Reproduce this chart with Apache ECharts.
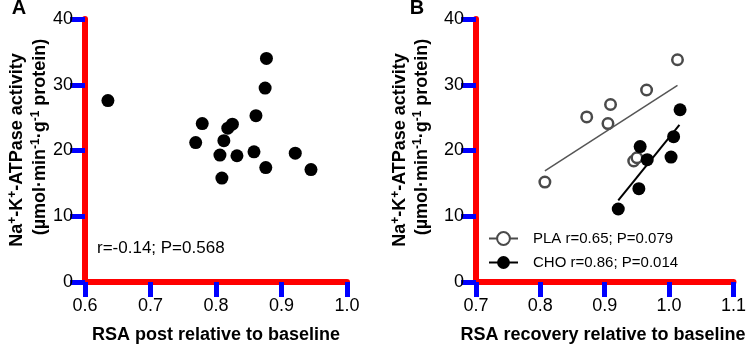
<!DOCTYPE html>
<html>
<head>
<meta charset="utf-8">
<script src="https://cdn.jsdelivr.net/npm/echarts@6/dist/echarts.min.js"></script>
<style>
html, body { margin: 0; padding: 0; background: #fff; }
#data_show { width: 749px; height: 345px; }
</style>
</head>
<body>
<div id="data_show"></div>
<script>
// panel A: RSA post vs Na+-K+-ATPase
var rsa_post = [0.635, 0.769, 0.779, 0.806, 0.809, 0.812, 0.818, 0.825, 0.832, 0.858, 0.861, 0.875, 0.877, 0.876, 0.921, 0.945];
var atpase_a = [27.6, 21.2, 24.1, 19.3, 15.8, 21.5, 23.4, 24.0, 19.2, 19.8, 25.3, 29.5, 34.0, 17.4, 19.6, 17.1];

// panel B: RSA recovery, PLA / CHO
var pla_x = [0.807, 0.872, 0.905, 0.909, 0.945, 0.950, 0.965, 1.013];
var pla_y = [15.2, 25.1, 24.1, 27.0, 18.4, 18.9, 29.2, 33.8];
var cho_x = [0.921, 0.953, 0.955, 0.966, 1.003, 1.007, 1.017];
var cho_y = [11.1, 14.2, 20.6, 18.6, 19.0, 22.1, 26.2];

// fitted lines, endpoints
var pla_fit = [[0.807, 16.9], [1.013, 29.9]];
var cho_fit = [[0.921, 12.4], [1.016, 23.9]];

var y_ticks = [0, 40, 10];
var xa_range = [0.6, 1.0];
var xb_range = [0.7, 1.1];

var pla_label = 'PLA r=0.65; P=0.079';
var cho_label = 'CHO r=0.86; P=0.014';
var a_note = 'r=-0.14; P=0.568';

var ff = 'Liberation Sans, Arial, sans-serif';
var axis_color = 'red';

function pairs(xs, ys){
	var out = [];
	for(var i = 0; i < xs.length; i++){
		out.push([xs[i], ys[i]]);
	}
	return out;
}

function make_x(idx, r){
	return {
		gridIndex: idx,
		type: 'value',
		min: r[0], max: r[1], splitNumber: 4,
		axisLine: { show: true, onZero: false, lineStyle: { color: axis_color, width: 6 } },
		axisTick: { show: true, length: 15, lineStyle: { color: 'blue', width: 5 } },
		axisLabel: { margin: 15, fontSize: 18, color: '#000',
			formatter: function(v){ return v.toFixed(1); } },
		splitLine: { show: false }
	};
}

function make_y(idx){
	return {
		gridIndex: idx,
		type: 'value',
		min: y_ticks[0], max: y_ticks[1], interval: y_ticks[2],
		axisLine: { show: true, onZero: false, lineStyle: { color: axis_color, width: 6 } },
		axisTick: { show: true, length: 15, lineStyle: { color: 'blue', width: 5 } },
		axisLabel: { margin: 12, fontSize: 18, color: '#000' },
		splitLine: { show: false }
	};
}

var sup = { fontSize: 12, fontWeight: 'bold', verticalAlign: 'top', padding: [0, 0, 8, 0] };
var base = { fontSize: 18, fontWeight: 'bold' };

function y_title(x1, x2){
	return [
		{
			type: 'text', x: x1, y: 150, rotation: Math.PI / 2,
			style: {
				text: '{b|Na}{s|+}{b|-K}{s|+}{b|-ATPase activity}',
				rich: { b: base, s: sup },
				fill: '#000', align: 'center', verticalAlign: 'middle'
			}
		},
		{
			type: 'text', x: x2, y: 137, rotation: Math.PI / 2,
			style: {
				text: '{b|(µmol·min}{s|-1}{b|·g}{s|-1}{b| protein)}',
				rich: { b: base, s: sup },
				fill: '#000', align: 'center', verticalAlign: 'middle'
			}
		}
	];
}

function x_title(x, txt){
	return { type: 'text', x: x, y: 335,
		style: { text: txt, fontSize: 18, fontWeight: 'bold', fill: '#000', align: 'center', verticalAlign: 'middle' } };
}

var chart = echarts.init(document.getElementById('data_show'));
var option = {
	animation: false,
	backgroundColor: '#fff',
	textStyle: { fontFamily: ff },
	grid: [
		{ left: 85, right: 402, top: 19, bottom: 63 },
		{ left: 476, right: 12, top: 19, bottom: 63 }
	],
	xAxis: [make_x(0, xa_range), make_x(1, xb_range)],
	yAxis: [make_y(0), make_y(1)],
	legend: {
		orient: 'vertical',
		left: 488,
		top: 231,
		padding: 0,
		itemWidth: 29,
		itemHeight: 16,
		itemGap: 9,
		textStyle: { fontSize: 15, color: '#000', padding: [0, 0, 0, 10] },
		data: [pla_label, cho_label]
	},
	graphic: [
		{ type: 'text', x: 19, y: 8, style: { text: 'A', fontSize: 20, fontWeight: 'bold', fill: '#000', align: 'center', verticalAlign: 'middle' } },
		{ type: 'text', x: 417, y: 8, style: { text: 'B', fontSize: 20, fontWeight: 'bold', fill: '#000', align: 'center', verticalAlign: 'middle' } },
		{ type: 'text', x: 97, y: 248, style: { text: a_note, fontSize: 17, fill: '#000', verticalAlign: 'middle' } },
		x_title(216, 'RSA post relative to baseline'),
		x_title(603, 'RSA recovery relative to baseline')
	].concat(y_title(17, 40)).concat(y_title(400, 422)),
	series: [
		{
			type: 'scatter',
			xAxisIndex: 0, yAxisIndex: 0,
			symbolSize: 13,
			itemStyle: { color: '#000', opacity: 1 },
			data: pairs(rsa_post, atpase_a)
		},
		{
			type: 'line',
			xAxisIndex: 1, yAxisIndex: 1,
			showSymbol: false,
			lineStyle: { color: '#555', width: 1.5 },
			data: pla_fit
		},
		{
			type: 'line',
			xAxisIndex: 1, yAxisIndex: 1,
			showSymbol: false,
			lineStyle: { color: '#000', width: 2 },
			data: cho_fit
		},
		{
			type: 'scatter',
			xAxisIndex: 1, yAxisIndex: 1,
			symbolSize: 10.5,
			itemStyle: { color: '#fff', borderColor: '#4a4a4a', borderWidth: 2.5, opacity: 1 },
			data: pairs(pla_x, pla_y)
		},
		{
			type: 'scatter',
			xAxisIndex: 1, yAxisIndex: 1,
			symbolSize: 13,
			itemStyle: { color: '#000', opacity: 1 },
			data: pairs(cho_x, cho_y)
		},
		// legend-only series
		{
			name: pla_label,
			type: 'line',
			xAxisIndex: 1, yAxisIndex: 1,
			symbol: 'circle',
			symbolSize: 10.5,
			lineStyle: { color: '#4a4a4a', width: 2 },
			itemStyle: { color: '#fff', borderColor: '#4a4a4a', borderWidth: 2.5 },
			data: []
		},
		{
			name: cho_label,
			type: 'line',
			xAxisIndex: 1, yAxisIndex: 1,
			symbol: 'circle',
			symbolSize: 13,
			lineStyle: { color: '#000', width: 2 },
			itemStyle: { color: '#000' },
			data: []
		}
	]
};
chart.setOption(option);
</script>
</body>
</html>
